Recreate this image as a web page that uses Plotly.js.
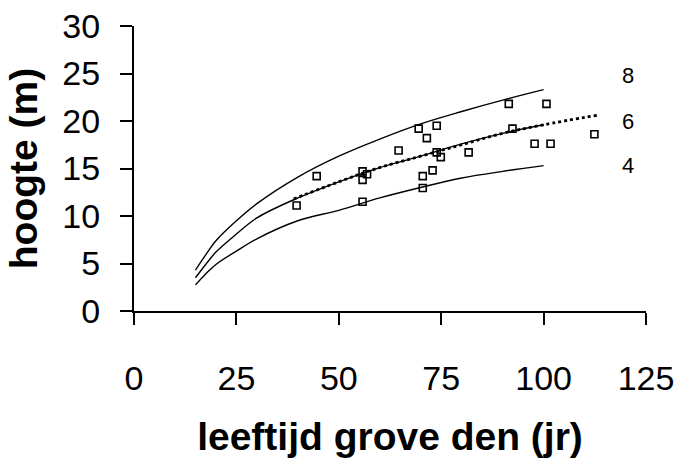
<!DOCTYPE html>
<html>
<head>
<meta charset="utf-8">
<script src="https://cdn.plot.ly/plotly-3.0.1.min.js"></script>
<style>html,body{margin:0;padding:0;background:#fff}#chart{width:683px;height:461px}</style>
</head>
<body>
<div id="chart"></div>
<script>
// Site-class curves (age in years, height in m)
const curveAges = [15, 17.5, 20, 25, 30, 40, 50, 60, 70, 80, 90, 100];
const curve8 = [4.3, 5.9, 7.4, 9.5, 11.3, 14.1, 16.3, 18.1, 19.7, 21.0, 22.2, 23.3];
const curve6 = [3.5, 4.9, 6.2, 8.1, 9.8, 11.9, 13.6, 15.1, 16.3, 17.6, 18.7, 19.6];
const curve4 = [2.75, 3.9, 4.9, 6.3, 7.6, 9.5, 10.6, 11.9, 13.0, 14.0, 14.7, 15.3];

// Trend line through the measurements (dotted)
const trendAges = [39, 50, 60, 70, 80, 90, 100, 113];
const trendHeights = [11.8, 13.6, 15.1, 16.3, 17.5, 18.7, 19.6, 20.6];

// Measured stands
const pointAges = [39.7, 44.6, 55.8, 56.9, 55.8, 55.8, 64.6, 69.5, 73.9, 71.5, 73.9, 74.9, 70.5, 72.9, 70.5, 81.7, 91.5, 92.4, 97.8, 101.7, 100.7, 112.4];
const pointHeights = [11.1, 14.2, 14.7, 14.4, 13.8, 11.5, 16.9, 19.2, 19.5, 18.2, 16.7, 16.2, 14.2, 14.8, 12.95, 16.7, 21.8, 19.2, 17.6, 17.6, 21.8, 18.6];

// Curve labels
const labelTexts = ['8', '6', '4'];
const labelAges = [120.5, 120.5, 120.5];
const labelHeights = [24.8, 19.9, 15.3];

const xTicks = [0, 25, 50, 75, 100, 125];
const yTicks = [0, 5, 10, 15, 20, 25, 30];

const lineStyle = {color: '#000', width: 1.4, shape: 'spline'};
const traces = [
  {x: curveAges, y: curve8, mode: 'lines', line: lineStyle, name: '8'},
  {x: curveAges, y: curve6, mode: 'lines', line: lineStyle, name: '6'},
  {x: curveAges, y: curve4, mode: 'lines', line: lineStyle, name: '4'},
  {x: trendAges, y: trendHeights, mode: 'lines', line: {color: '#000', width: 2.8, dash: 'dot', shape: 'spline'}, name: 'trend'},
  {x: pointAges, y: pointHeights, mode: 'markers', marker: {symbol: 'square-open', size: 7, color: '#000', line: {width: 1.6, color: '#000'}}, name: 'metingen'}
];

const annotations = labelTexts.map((t, i) => ({
  x: labelAges[i], y: labelHeights[i], xref: 'x', yref: 'y', text: t, showarrow: false,
  font: {family: 'Liberation Sans, Arial, sans-serif', size: 22, color: '#000'}
}));

const axisCommon = {
  showgrid: false, zeroline: false, showline: true, linecolor: '#000', linewidth: 2,
  ticks: 'outside', ticklen: 12, tickwidth: 2, tickcolor: '#000',
  tickfont: {family: 'Liberation Sans, Arial, sans-serif', size: 34, color: '#000'},
  tickmode: 'array', fixedrange: true
};

const layout = {
  width: 683, height: 461,
  margin: {l: 134, r: 36.5, t: 25.7, b: 149.7},
  paper_bgcolor: '#fff', plot_bgcolor: '#fff',
  showlegend: false,
  xaxis: Object.assign({}, axisCommon, {
    range: [0, 125], tickvals: xTicks, ticktext: xTicks.map(String),
    ticklabelstandoff: 24,
    title: {text: 'leeftijd grove den (jr)', standoff: 27, font: {family: 'Liberation Sans, Arial, sans-serif', size: 39, color: '#000', weight: 'bold'}}
  }),
  yaxis: Object.assign({}, axisCommon, {
    range: [0, 30], tickvals: yTicks, ticktext: yTicks.map(String),
    ticklabelstandoff: 13,
    title: {text: 'hoogte (m)', standoff: 13, font: {family: 'Liberation Sans, Arial, sans-serif', size: 39, color: '#000', weight: 'bold'}}
  }),
  annotations: annotations
};

Plotly.newPlot('chart', traces, layout, {displayModeBar: false, staticPlot: true});
</script>
</body>
</html>
